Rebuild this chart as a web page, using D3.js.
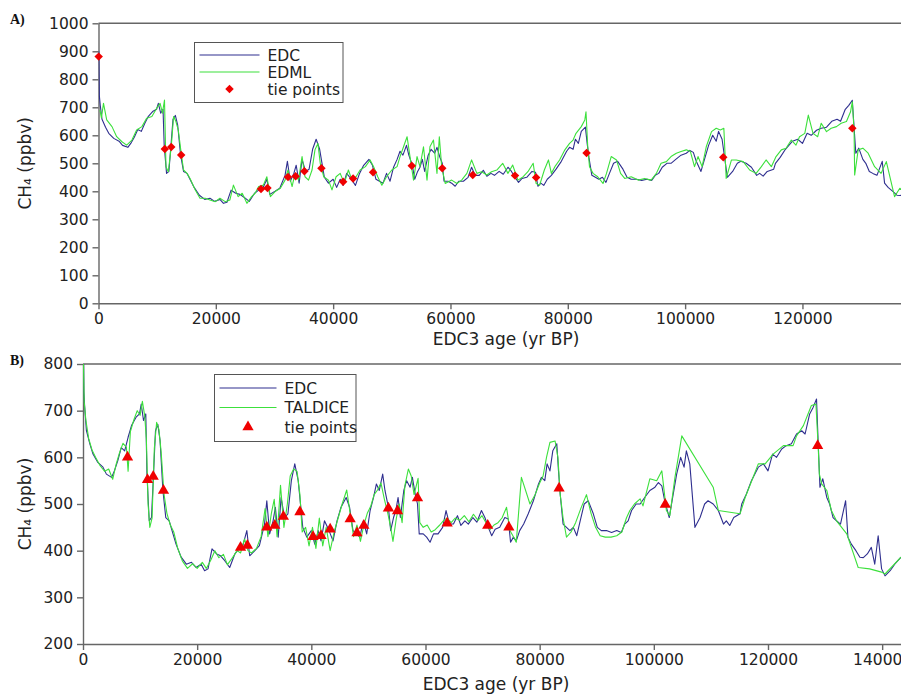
<!DOCTYPE html>
<html>
<head>
<meta charset="utf-8">
<script src="https://cdn.jsdelivr.net/npm/d3@7.9.0/dist/d3.min.js"></script>
<style>
  html,body{margin:0;padding:0;background:#fff}
  svg{display:block;font-family:"DejaVu Sans",sans-serif}
  .tick text{font-family:"DejaVu Sans",sans-serif;font-size:15.5px;fill:#222}
  .axis path,.axis line{stroke:#666;stroke-width:1.4}
</style>
</head>
<body>
<svg id="chart" width="901" height="694"></svg>
<script>
/* ----------------------------- data (ages in kyr BP, CH4 in ppbv) ----------------------------- */
const edcAge = [0.05,0.15,0.3,0.6,1.2,1.75,2.6,3.5,4.1,5.0,5.5,6.1,6.7,7.3,7.9,8.5,9.3,9.9,10.2,10.6,11.0,11.2,11.6,12.0,12.3,12.7,13.1,13.5,14.0,14.5,15.1,15.6,16.3,17.2,18.1,19.0,19.8,20.7,21.3,21.9,22.6,23.4,24.1,24.8,25.7,26.6,27.3,28.0,28.7,29.2,30.1,30.9,31.8,32.2,32.7,33.3,33.7,34.2,34.7,35.3,35.9,36.5,37.1,37.7,38.1,38.5,39.2,40.0,40.6,41.2,41.7,42.3,43.1,43.8,44.5,45.2,46.1,46.7,47.3,47.9,48.5,49.1,49.7,50.3,50.9,51.4,51.9,52.5,52.9,53.5,53.9,54.4,54.8,55.2,55.6,56.2,56.7,57.3,57.7,58.2,58.6,58.9,59.6,60.2,60.8,61.4,62.2,63.0,63.6,64.2,64.9,65.6,66.2,66.9,67.5,68.3,69.0,69.8,70.4,71.0,71.6,72.2,73.0,73.9,74.5,74.9,75.4,75.9,76.5,77.2,78.0,78.9,79.8,80.3,80.9,81.3,81.8,82.3,83.0,83.3,83.6,84.1,84.7,85.3,85.9,86.5,87.1,87.8,88.5,89.4,90.1,90.8,91.7,92.6,93.5,94.3,94.9,95.5,96.1,96.9,97.6,98.4,99.3,100.2,100.8,101.4,101.9,102.7,103.3,104.0,104.7,105.3,105.7,106.3,107.2,108.1,108.9,109.5,110.4,111.3,112.2,112.7,113.3,114.0,115.1,115.4,116.2,117.1,118.3,119.2,120.0,120.8,121.5,122.4,123.2,124.1,125.0,125.9,126.5,127.3,127.9,128.5,128.8,129.1,129.6,130.3,130.8,131.4,132.0,132.7,133.6,134.0,134.6,135.4,136.1,136.7,137.4,138.1,138.7,139.3,139.9,140.5,141.4,142.2,143.3];
const edcCH4 = [900,740,707,657,629,607,589,579,564,557,571,593,621,614,643,668,686,693,714,679,693,564,464,471,550,657,671,636,529,471,464,443,414,386,371,375,364,371,357,361,404,393,389,379,364,393,404,411,443,389,400,411,457,507,436,464,493,429,514,471,479,550,586,550,500,450,429,443,414,443,421,464,443,421,464,493,514,493,443,436,429,464,436,486,514,543,529,564,529,493,443,471,486,514,471,529,550,536,557,521,500,436,436,429,418,436,436,450,486,457,457,475,454,464,457,471,461,486,471,450,432,446,450,471,468,418,429,421,443,457,479,507,543,557,550,586,571,614,629,571,521,457,450,443,450,432,464,500,507,479,450,443,443,439,443,439,457,464,486,500,500,514,529,536,546,539,507,471,514,564,600,579,614,586,450,471,500,507,500,486,457,464,454,471,479,500,521,550,579,586,571,607,600,618,625,629,650,657,650,693,707,725,629,536,554,514,500,471,464,457,507,429,414,400,386,385,393,407,371,432,361,346,357,371,386];

const edmlAge = [0.25,0.5,0.85,1.4,2.3,3.1,4.0,4.8,5.7,6.5,7.4,8.2,9.1,9.9,10.5,10.9,11.25,11.5,11.9,12.4,12.8,13.2,13.6,14.1,14.5,15.1,15.6,16.5,17.3,18.2,19.0,19.9,20.7,21.6,22.4,23.0,23.8,24.5,25.3,26.1,26.7,27.3,28.1,28.7,29.3,30.1,31.0,31.8,32.3,33.0,33.5,34.1,34.7,35.2,35.8,36.4,36.9,37.4,37.8,38.4,39.2,39.8,40.5,41.2,41.9,42.6,43.2,43.9,44.6,45.5,46.3,46.9,47.6,48.3,49.1,50.0,50.9,51.4,52.0,52.6,53.1,53.7,54.3,54.8,55.4,56.0,56.5,57.1,57.7,58.1,58.5,59.1,60.2,61.1,61.9,62.8,63.6,64.5,65.3,66.2,67.0,67.9,68.9,69.8,70.6,71.5,72.4,73.2,74.1,74.6,75.2,76.0,76.7,77.2,77.8,78.6,79.5,80.3,80.9,81.4,82.3,82.9,83.1,83.4,83.7,84.3,85.1,86.0,86.6,87.4,88.3,89.0,89.7,90.8,92.0,93.1,94.2,95.1,95.9,96.8,97.6,98.5,99.3,100.2,100.9,101.6,102.2,102.9,103.6,104.5,105.3,106.0,106.6,107.0,107.9,108.7,109.9,111.0,112.1,113.0,113.8,114.7,115.5,116.4,117.2,118.1,118.9,119.5,120.4,121.0,121.8,122.6,123.2,124.1,124.9,125.8,126.6,127.5,128.2,128.5,128.8,128.9,129.5,130.3,131.2,132.3,133.4,134.3,134.9,135.7,136.6,137.2];
const edmlCH4 = [690,662,714,655,631,595,577,565,583,619,631,661,667,696,714,679,726,488,470,559,667,649,619,536,476,464,446,405,375,375,369,363,375,363,369,422,381,393,357,381,393,417,422,452,381,399,411,440,476,417,464,440,524,452,440,476,548,571,500,452,440,405,452,464,428,476,440,452,476,488,512,488,452,422,452,476,488,524,559,595,524,440,524,488,559,440,559,583,464,595,488,428,440,428,440,464,512,464,470,458,470,476,500,464,494,440,452,470,500,428,422,476,512,464,488,512,548,571,583,607,631,655,684,559,488,464,452,428,464,524,512,464,446,452,440,446,440,464,500,506,524,536,542,548,542,488,524,488,559,613,625,619,625,446,512,512,506,476,464,488,512,488,524,548,554,583,565,595,607,672,607,595,643,613,625,631,643,649,684,720,619,458,548,554,536,488,464,506,452,381,411,400];

const taldiceAge = [0.05,0.2,0.5,1.0,1.6,2.2,3.0,3.8,4.5,5.2,5.8,6.4,7.0,7.6,7.9,8.3,8.9,9.5,10.0,10.4,10.8,11.1,11.4,11.7,12.1,12.5,12.9,13.3,13.7,14.2,14.7,15.3,15.9,16.6,17.4,18.3,19.2,20.0,20.9,21.6,22.4,23.1,23.8,24.6,25.3,26.2,27.0,27.6,28.3,28.9,29.5,30.4,31.2,31.9,32.4,33.0,33.5,34.0,34.6,35.2,35.8,36.3,36.9,37.5,38.0,38.4,39.0,39.6,40.2,40.8,41.4,42.0,42.6,43.3,44.0,44.7,45.4,46.2,46.8,47.4,48.0,48.6,49.2,49.8,50.4,51.0,51.6,52.2,52.8,53.4,53.9,54.3,54.9,55.4,55.9,56.4,57.0,57.5,58.0,58.7,59.0,59.6,60.3,61.0,61.7,62.5,63.2,63.8,64.5,65.2,66.0,66.8,67.6,68.4,69.2,69.9,70.6,71.3,72.0,72.7,73.4,74.2,74.8,75.4,75.9,76.8,78.3,79.2,80.0,80.6,81.2,81.8,82.7,83.2,83.6,84.1,84.7,85.5,86.3,87.2,88.2,89.0,89.8,90.6,91.5,92.5,93.5,94.4,95.2,95.8,96.6,97.6,98.1,99.3,100.5,101.4,102.2,102.8,103.7,104.9,110.4,111.3,115.1,116.0,117.0,118.3,119.5,120.9,122.7,124.4,125.0,126.2,127.6,128.4,128.8,129.0,129.4,130.3,131.1,132.0,133.8,135.8,137.8,139.9,140.5,143.3];
const taldiceCH4 = [820,720,680,640,615,600,582,570,575,553,585,610,630,622,570,655,680,700,690,720,690,640,500,450,470,620,675,660,610,520,480,455,440,405,378,362,372,362,375,362,380,400,385,392,370,385,400,395,425,400,395,405,430,490,430,480,510,430,540,450,500,560,575,570,520,440,450,410,450,405,470,410,450,400,440,470,500,530,480,430,455,420,455,480,495,520,530,545,510,480,450,420,470,500,460,540,575,560,520,555,460,450,455,440,445,455,465,470,460,470,465,475,462,478,465,475,460,445,455,460,470,493,443,430,418,557,500,520,545,560,600,632,635,600,520,470,429,440,460,490,520,480,450,432,429,429,432,440,470,486,500,511,496,554,550,571,486,475,557,646,536,486,479,514,545,586,586,607,625,625,646,668,711,714,621,564,543,529,486,464,436,364,361,354,350,386];

const tieAAge = [0.03,11.3,12.4,14.1,27.7,28.8,32.3,33.6,35.1,38.0,41.7,43.4,46.8,53.4,58.6,63.8,71.0,74.6,83.2,106.5,128.5];
const tieACH4 = [881,551,558,530,408,412,451,454,472,482,434,446,468,491,482,458,456,449,537,522,625];

const tieBAge = [7.8,11.3,12.3,14.1,27.6,28.8,32.2,33.6,35.1,38.0,40.3,41.7,43.3,46.8,48.0,49.2,53.5,55.1,58.6,63.8,70.9,74.6,83.4,102.0,128.7];
const tieBCH4 = [600,552,559,529,407,411,450,454,473,483,430,432,446,468,438,454,491,485,513,459,454,450,534,499,625];

const yTicksA = [0,100,200,300,400,500,600,700,800,900,1000];
const yTicksB = [200,300,400,500,600,700,800];
const xTicksA = [0,20,40,60,80,100,120];
const xTicksB = [0,20,40,60,80,100,120,140];

/* ----------------------------- setup ----------------------------- */
const svg = d3.select("#chart");
const EDC_COLOR = "#2f2f8f";
const GREEN = "#3ce03c";
const RED = "#f00000";

const zip = (a, b) => a.map((d, i) => [d, b[i]]);

// diamond tie marker (square turned 45°), wider than d3's own diamond
const diamond = {
  draw(ctx, size) {
    const r = Math.sqrt(size / 2);
    ctx.moveTo(0, -r); ctx.lineTo(r, 0); ctx.lineTo(0, r); ctx.lineTo(-r, 0); ctx.closePath();
  }
};

function panel(opts) {
  const { id, x, y, yTicks, xTicks, series, ties, tieSymbol, tieSize, label, legend } = opts;
  const [x0, x1] = x.range();
  const [yb, yt] = y.range();

  svg.append("clipPath").attr("id", id)
    .append("rect").attr("x", x0).attr("y", yt).attr("width", x1 - x0 + 10).attr("height", yb - yt);

  // frame top line
  svg.append("line").attr("x1", x0).attr("x2", 901).attr("y1", yt).attr("y2", yt)
    .attr("stroke", "#666").attr("stroke-width", 1.4);

  svg.append("g").attr("class", "axis").attr("transform", `translate(0,${yb})`)
    .call(d3.axisBottom(x).tickValues(xTicks).tickFormat(d => String(d * 1000))
      .tickSize(6).tickSizeOuter(0).tickPadding(4));
  svg.append("g").attr("class", "axis").attr("transform", `translate(${x0},0)`)
    .call(d3.axisLeft(y).tickValues(yTicks).tickFormat(d3.format("d"))
      .tickSize(6).tickSizeOuter(0).tickPadding(4));

  const line = d3.line().x(d => x(d[0])).y(d => y(d[1]));
  const g = svg.append("g").attr("clip-path", `url(#${id})`);
  series.forEach(s => {
    g.append("path").datum(s.data).attr("d", line)
      .attr("fill", "none").attr("stroke", s.color).attr("stroke-width", 1.1)
      .attr("stroke-linejoin", "round");
  });

  const sym = d3.symbol().type(tieSymbol).size(tieSize);
  svg.append("g").selectAll("path").data(ties).join("path")
    .attr("d", sym)
    .attr("transform", d => `translate(${x(d[0])},${y(d[1])})`)
    .attr("fill", RED);

  // panel letter
  svg.append("text").attr("x", 10).attr("y", label.y)
    .attr("font-family", "'Liberation Serif','DejaVu Serif',serif").attr("font-weight", "bold")
    .attr("font-size", 14).attr("fill", "#111").text(label.text);

  // axis titles
  svg.append("text")
    .attr("transform", `translate(${label.ytx},${(yb + yt) / 2}) rotate(-90)`)
    .attr("text-anchor", "middle").attr("font-size", 17).attr("fill", "#222")
    .text("CH₄ (ppbv)");
  svg.append("text").attr("x", label.xtx).attr("y", label.xty)
    .attr("text-anchor", "middle").attr("font-size", 17).attr("fill", "#222")
    .text("EDC3 age (yr BP)");

  // legend
  const L = legend;
  svg.append("rect").attr("x", L.x).attr("y", L.y).attr("width", L.w).attr("height", L.h)
    .attr("fill", "#fff").attr("stroke", "#555").attr("stroke-width", 1);
  L.rows.forEach((r, i) => {
    const cy = L.y + L.first + i * L.step;
    if (r.color) {
      svg.append("line").attr("x1", L.x + 5).attr("x2", L.x + 5 + L.len).attr("y1", cy).attr("y2", cy)
        .attr("stroke", r.color).attr("stroke-width", 1.1);
    } else {
      svg.append("path").attr("d", sym).attr("fill", RED)
        .attr("transform", `translate(${L.x + 5 + L.len / 2},${cy})`);
    }
    svg.append("text").attr("x", L.x + L.tx).attr("y", cy + 5.5)
      .attr("font-size", 15.5).attr("fill", "#222").text(r.text);
  });
}

/* ----------------------------- panel A ----------------------------- */
panel({
  id: "clipA",
  x: d3.scaleLinear().domain([0, 136.8]).range([98.5, 901]),
  y: d3.scaleLinear().domain([0, 1000]).range([303.3, 23.3]),
  yTicks: yTicksA, xTicks: xTicksA,
  series: [
    { data: zip(edcAge, edcCH4), color: EDC_COLOR },
    { data: zip(edmlAge, edmlCH4), color: GREEN }
  ],
  ties: zip(tieAAge, tieACH4),
  tieSymbol: diamond, tieSize: 36,
  label: { text: "A)", y: 24, ytx: 31, xtx: 506, xty: 345 },
  legend: { x: 194.5, y: 42.5, w: 148.5, h: 60, first: 12.5, step: 17, len: 60, tx: 73,
    rows: [{ text: "EDC", color: EDC_COLOR }, { text: "EDML", color: GREEN }, { text: "tie points" }] }
});

/* ----------------------------- panel B ----------------------------- */
panel({
  id: "clipB",
  x: d3.scaleLinear().domain([0, 143.3]).range([83, 901]),
  y: d3.scaleLinear().domain([200, 800]).range([644, 364]),
  yTicks: yTicksB, xTicks: xTicksB,
  series: [
    { data: zip(edcAge, edcCH4), color: EDC_COLOR },
    { data: zip(taldiceAge, taldiceCH4), color: GREEN }
  ],
  ties: zip(tieBAge, tieBCH4),
  tieSymbol: d3.symbolTriangle, tieSize: 55,
  label: { text: "B)", y: 365, ytx: 31, xtx: 496, xty: 690 },
  legend: { x: 214.5, y: 374.5, w: 141.5, h: 67, first: 13.5, step: 19.5, len: 57, tx: 70,
    rows: [{ text: "EDC", color: EDC_COLOR }, { text: "TALDICE", color: GREEN }, { text: "tie points" }] }
});
</script>
</body>
</html>
